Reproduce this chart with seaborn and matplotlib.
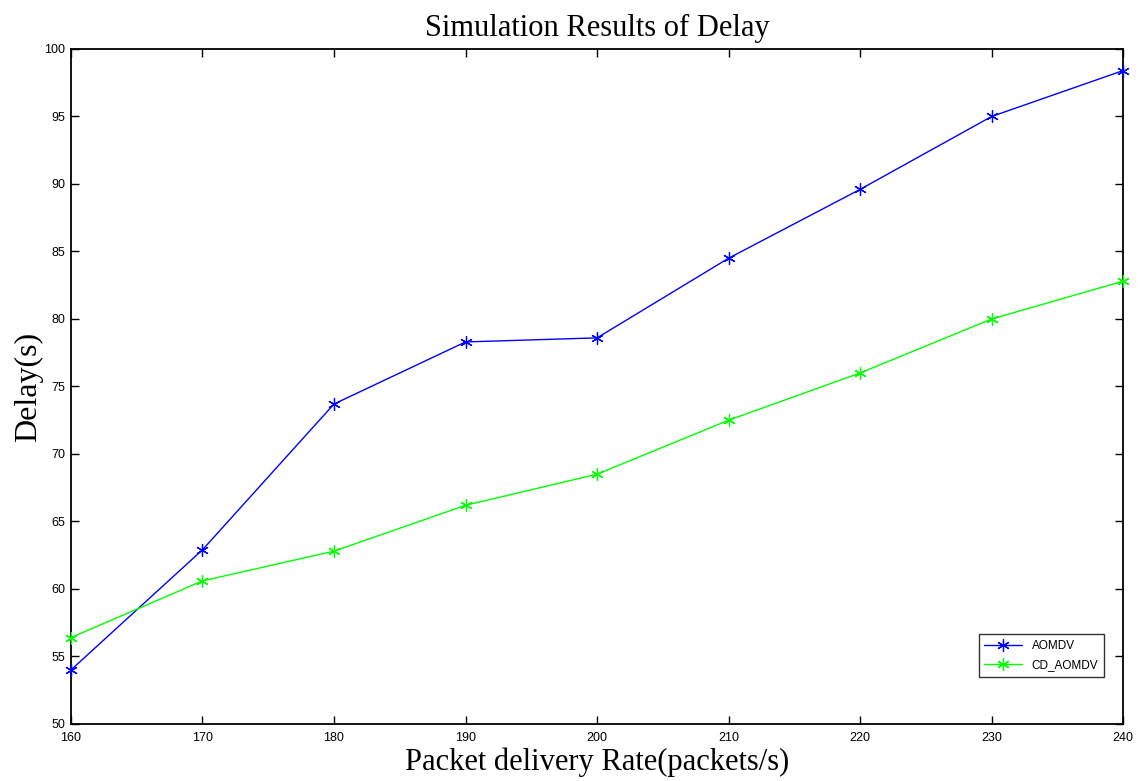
import matplotlib
matplotlib.use("Agg")
import matplotlib.pyplot as plt
import seaborn as sns

# data
rate = [160, 170, 180, 190, 200, 210, 220, 230, 240]
aomdv = [54.0, 62.9, 73.7, 78.3, 78.6, 84.5, 89.6, 95.0, 98.4]
cd_aomdv = [56.4, 60.6, 62.8, 66.2, 68.5, 72.5, 76.0, 80.0, 82.8]
xticks = [160, 170, 180, 190, 200, 210, 220, 230, 240]
yticks = [50, 55, 60, 65, 70, 75, 80, 85, 90, 95, 100]

sns.set_style("ticks")
plt.rcParams["font.family"] = ["Liberation Sans", "DejaVu Sans"]
plt.rcParams["xtick.direction"] = "in"
plt.rcParams["ytick.direction"] = "in"
plt.rcParams["xtick.top"] = True
plt.rcParams["ytick.right"] = True
plt.rcParams["text.color"] = "black"
plt.rcParams["axes.labelcolor"] = "black"
plt.rcParams["xtick.color"] = "black"
plt.rcParams["ytick.color"] = "black"
plt.rcParams["axes.edgecolor"] = "black"

fig = plt.figure(figsize=(11.44, 7.81), dpi=100)
ax = fig.add_axes([0.062, 0.073, 0.9198, 0.8643])

star = (6, 2, 0)
for vals, col, name in [(aomdv, "#0000ff", "AOMDV"), (cd_aomdv, "#00ff00", "CD_AOMDV")]:
    sns.lineplot(x=rate, y=vals, ax=ax, color=col, marker=star, markersize=9,
                 markeredgewidth=0.9, markeredgecolor=col, markerfacecolor=col,
                 linewidth=1, label=name, clip_on=False, zorder=3)

ax.set_xlim(160, 240)
ax.set_ylim(50, 100)
ax.set_xticks(xticks)
ax.set_yticks(yticks)
ax.tick_params(labelsize=9, length=6, width=1)
ax.tick_params(axis="x", pad=6)
ax.tick_params(axis="y", pad=4)
for s in ax.spines.values():
    s.set_linewidth(1.3)

serif = ["Liberation Serif", "DejaVu Serif"]
ax.set_title("Simulation Results of Delay", fontsize=22, family=serif, pad=9)
ax.set_xlabel("Packet delivery Rate(packets/s)", fontsize=22, family=serif, labelpad=2)
ax.set_ylabel("Delay(s)", fontsize=23, family=serif, labelpad=1)

leg = ax.legend(loc="lower right", bbox_to_anchor=(0.982, 0.07), borderaxespad=0,
                fontsize=8.5, frameon=True, fancybox=False, edgecolor="black",
                handlelength=3.2, borderpad=0.5, labelspacing=0.6)
leg.get_frame().set_linewidth(1)

fig.savefig("out.png", dpi=100)
